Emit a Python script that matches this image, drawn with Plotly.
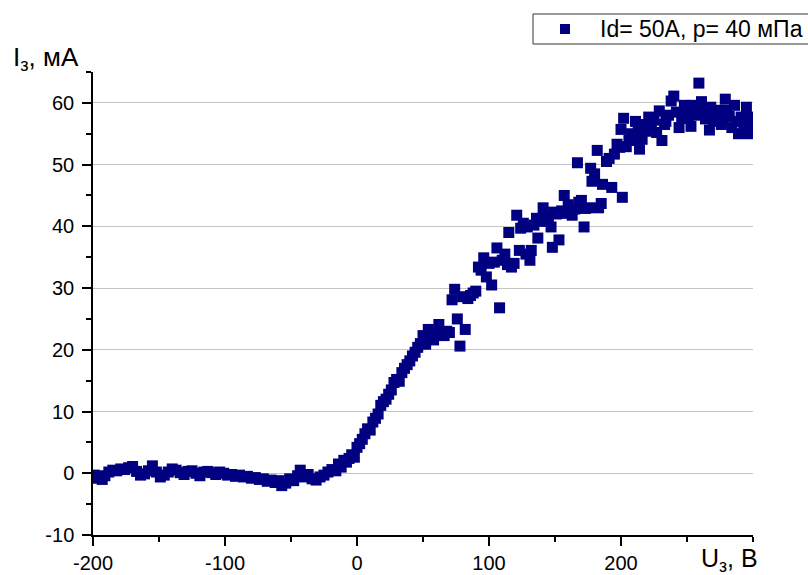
import plotly.graph_objects as go

# Probe voltage (V) and probe current (mA)
U = [-199, -196, -193, -191, -188, -185, -182, -179, -176, -173, -170, -167, -164, -161,
     -158, -155, -152, -149, -146, -143, -140, -137, -134, -131, -128, -125, -122, -119,
     -116, -113, -110, -107, -104, -101, -98, -95, -92, -89, -86, -83, -80, -77, -74, -71,
     -68, -65, -62, -59, -57, -54, -51, -48, -45, -43, -40, -37, -34, -31, -28, -25, -22,
     -19, -16, -14, -12, -10, -8, -6, -4, -2, 0, 2, 4, 6, 8, 10, 12, 14, 16, 18, 20, 22,
     24, 26, 28, 30, 32, 34, 36, 38, 40, 42, 44, 46, 48, 50, 52, 54, 56, 58, 60, 62, 64,
     66, 68, 70, 72, 74, 76, 78, 80, 82, 84, 86, 88, 90, 92, 94, 96, 98, 100, 102, 104,
     106, 108, 110, 112, 114, 115, 117, 119, 121, 123, 124, 126, 128, 129, 131, 132, 134,
     136, 137, 139, 141, 143, 145, 147, 148, 149, 151, 153, 155, 157, 158, 160, 163, 165,
     167, 168, 170, 172, 173, 175, 177, 178, 180, 182, 183, 185, 186, 189, 191, 193, 195,
     197, 199, 200, 201, 202, 204, 206, 208, 210, 211, 213, 214, 216, 218, 219, 221, 223,
     225, 227, 229, 231, 233, 234, 236, 238, 240, 242, 244, 246, 248, 250, 251, 253, 254,
     256, 258, 259, 261, 263, 264, 266, 267, 268, 270, 272, 274, 276, 277, 279, 280, 282,
     284, 286, 288, 289, 291, 293, 295, 296, 297, 298]
I = [-0.3, -0.8, -1.0, -0.4, 0.2, 0.5, 0.4, 0.7, 0.6, 0.9, 1.1, 0.3, -0.3, -0.1,
     0.4, 1.2, 0.2, -0.6, -0.3, 0.2, 0.7, 0.5, 0.1, -0.2, 0.3, 0.4, 0.0, -0.4,
     0.2, 0.3, 0.1, -0.2, 0.2, 0.0, -0.3, -0.2, -0.5, -0.3, -0.6, -0.5, -0.8, -0.7, -1.0, -0.9,
     -1.3, -1.1, -1.5, -1.2, -2.0, -1.6, -0.9, -1.2, -0.4, 0.5, -0.6, -0.2, -0.9, -1.1, -0.6, -0.3, 0.2,
     0.6, 0.4, 1.5, 1.0, 2.1, 1.8, 2.4, 3.0, 2.6, 4.2, 4.8, 5.5, 6.4, 7.2, 7.0, 8.3, 8.9, 9.6, 11.0, 11.6, 12.0,
     12.8, 13.5, 14.7, 15.2, 14.9, 16.3, 17.0, 17.6, 18.2, 19.0, 19.6, 20.4, 21.0, 22.3, 20.9, 23.3, 22.2, 21.6, 22.5, 24.1, 22.8,
     22.3, 23.0, 22.8, 28.1, 29.8, 25.0, 20.6, 28.6, 23.3, 28.3, 28.8, 29.2, 29.5, 33.4, 32.9, 34.9, 31.8, 34.0, 30.5, 34.2,
     36.5, 26.8, 34.5, 35.5, 33.8, 39.0, 33.4, 34.0, 41.8, 36.1, 39.7, 40.5, 35.5, 39.9, 34.5, 36.1, 40.2,
     41.3, 38.1, 40.8, 43.0, 41.3, 41.6, 39.9, 36.6, 42.3, 42.0, 37.8, 42.5, 45.0, 42.1, 43.5, 41.8, 42.8,
     50.3, 43.9, 44.2, 39.9, 42.9, 43.0, 49.4, 47.3, 48.5, 52.3, 43.0, 43.7, 46.8, 50.5, 51.0, 46.3, 51.7,
     53.3, 52.8, 55.7, 44.7, 57.5, 52.9, 53.9, 55.0, 54.0, 57.0, 55.8, 52.5, 54.1, 56.5, 55.4, 57.7, 56.0,
     57.2, 55.2, 58.7, 53.9, 56.5, 57.0, 58.0, 60.3, 61.1, 58.5, 56.0, 57.5, 59.6, 58.2, 57.5, 56.2, 59.6,
     58.0, 59.1, 63.2, 60.2, 58.5, 57.4, 58.8, 55.6, 59.3, 57.0, 58.0, 58.8, 56.5, 57.2, 60.6, 58.8, 57.8,
     56.0, 59.6, 57.0, 55.0, 57.7, 56.6, 59.3, 57.7, 55.0, 56.0]

SERIES_NAME = "Id= 50A, p= 40 мПа"
X_TICKS = [-200, -100, 0, 100, 200]
Y_TICKS = [-10, 0, 10, 20, 30, 40, 50, 60]

FONT = "Liberation Sans, Arial, sans-serif"
NAVY = "#000080"

fig = go.Figure()
fig.add_trace(go.Scatter(
    x=U, y=I, mode="markers", name=SERIES_NAME, showlegend=False,
    marker=dict(symbol="square", size=11, color=NAVY, line=dict(width=0)),
))

axis_common = dict(
    showline=True, linecolor="black", linewidth=1.5,
    ticks="outside", ticklen=9, tickwidth=1.5, tickcolor="black",
    tickfont=dict(family=FONT, size=20, color="black"),
    zeroline=False, mirror=False, automargin=False,
)

fig.update_xaxes(
    range=[-200, 300], tickmode="array", tickvals=X_TICKS,
    ticktext=[str(v) for v in X_TICKS], showgrid=False,
    minor=dict(ticks="outside", ticklen=5, tickwidth=1.5, tickcolor="black",
               dtick=50, tick0=-200, showgrid=False),
    **axis_common,
)
fig.update_yaxes(
    range=[-10, 65], tickmode="array", tickvals=Y_TICKS,
    ticktext=[str(v) for v in Y_TICKS], showgrid=True,
    gridcolor="#c4c4c4", gridwidth=1,
    minor=dict(ticks="outside", ticklen=5, tickwidth=1.5, tickcolor="black",
               dtick=5, tick0=-10, showgrid=False),
    ticklabelstandoff=4,
    **axis_common,
)

# axis titles
fig.add_annotation(
    text="I<sub>з</sub>, мА", xref="paper", yref="paper", x=-0.125, y=1.03,
    xanchor="left", yanchor="middle", showarrow=False,
    font=dict(family=FONT, size=26, color="black"),
)
fig.add_annotation(
    text="U<sub>з</sub>, В", xref="paper", yref="paper", x=0.918, y=-0.055,
    xanchor="left", yanchor="middle", showarrow=False,
    font=dict(family=FONT, size=25, color="black"),
)

# legend box drawn in figure pixels (runs past the right edge)
def px_x(p):
    return (p - 93) / 660


def px_y(p):
    return (535 - p) / 463


fig.add_shape(type="rect", xref="paper", yref="paper",
              x0=px_x(533), x1=px_x(830), y0=px_y(44), y1=px_y(14),
              line=dict(color="#333333", width=1), fillcolor="white", layer="above")
fig.add_shape(type="rect", xref="paper", yref="paper",
              x0=px_x(560), x1=px_x(570), y0=px_y(34), y1=px_y(24),
              line=dict(width=0), fillcolor=NAVY, layer="above")
fig.add_annotation(
    text=SERIES_NAME, xref="paper", yref="paper", x=px_x(598), y=px_y(29),
    xanchor="left", yanchor="middle", showarrow=False,
    font=dict(family=FONT, size=23, color="black"),
)

fig.update_layout(
    width=808, height=575,
    margin=dict(l=93, r=55, t=72, b=40),
    paper_bgcolor="white", plot_bgcolor="white",
    showlegend=False,
)

fig.write_html("out.html")
